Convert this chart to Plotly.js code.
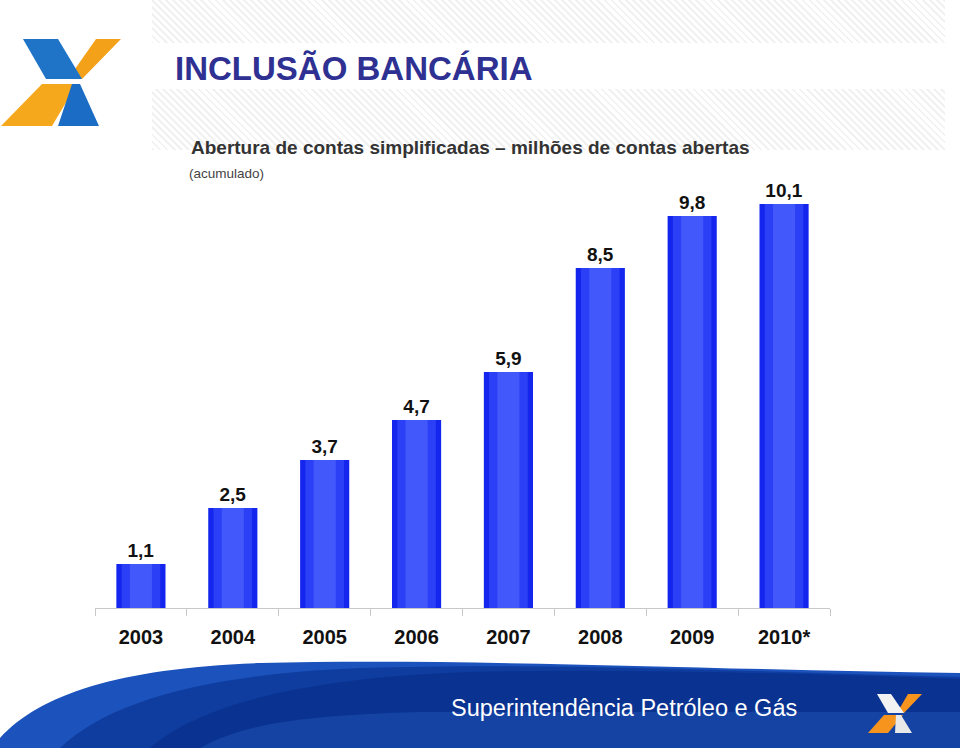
<!DOCTYPE html>
<html>
<head>
<meta charset="utf-8">
<script src="https://cdn.plot.ly/plotly-3.0.1.min.js"></script>
<style>
  html, body { margin: 0; padding: 0; background: #fff; }
  #fundo { position: absolute; left: 152px; top: 0; width: 793px; height: 150px;
    background: repeating-linear-gradient(45deg, #f1f1f1 0px, #f1f1f1 2px, #fff 2px, #fff 5px); }
  #faixa { position: absolute; left: 152px; top: 43px; width: 793px; height: 46px; background: #fff; }
  #grafico { position: absolute; left: 0; top: 0; width: 960px; height: 748px; }
</style>
</head>
<body>
<div id="fundo"></div>
<div id="faixa"></div>
<div id="grafico"></div>
<script>
const anos = ['2003', '2004', '2005', '2006', '2007', '2008', '2009', '2010*'];
const contas = [1.1, 2.5, 3.7, 4.7, 5.9, 8.5, 9.8, 10.1];
const rotulos = contas.map(v => v.toFixed(1).replace('.', ','));

const W = 960, H = 748;
const fonte = 'Arial, "Liberation Sans", sans-serif';

// converte pontos em pixels para coordenadas "paper" (margens zeradas)
const px = (x, y) => (x / W).toFixed(5) + ',' + (1 - y / H).toFixed(5);
const caminho = (cmds) => cmds.map(c => c[0] + ' ' + c.slice(1).map((p, i, a) => i % 2 ? null : px(p, a[i + 1])).filter(Boolean).join(' ')).join(' ') + ' Z';
const forma = (cmds, cor) => ({ type: 'path', xref: 'paper', yref: 'paper', path: caminho(cmds), fillcolor: cor, line: { width: 0 }, layer: 'above' });

const shapes = [
  // logo superior
  forma([['M', 96, 39], ['L', 121, 39], ['L', 82, 79], ['L', 68, 79]], '#f4a11a'),
  forma([['M', 23, 39], ['L', 58, 39], ['L', 82, 79], ['L', 46, 79]], '#1f74c8'),
  forma([['M', 42, 84], ['L', 77, 84], ['L', 52, 126], ['L', 1, 126]], '#f6a81c'),
  forma([['M', 72, 84], ['L', 80, 84], ['L', 99, 126], ['L', 58, 126]], '#1a6cc4'),
  // faixa azul inferior
  forma([['M', 0, 748], ['L', 0, 738], ['C', 40, 694, 120, 668, 260, 663], ['C', 470, 658, 720, 670, 960, 673], ['L', 960, 748]], '#1b52bc'),
  forma([['M', 60, 748], ['C', 110, 700, 210, 674, 360, 668], ['C', 560, 662, 760, 672, 960, 677], ['L', 960, 748]], '#0f3d9f'),
  forma([['M', 150, 748], ['C', 200, 705, 300, 678, 470, 672], ['C', 640, 668, 800, 674, 960, 679], ['L', 960, 748]], '#0a3291'),
  forma([['M', 200, 748], ['C', 240, 725, 300, 715, 420, 712], ['L', 960, 712], ['L', 960, 748]], 'rgba(40,100,200,0.35)'),
  // logo da faixa
  forma([['M', 908, 694], ['L', 922, 694], ['L', 904, 713], ['L', 897, 713]], '#f7941d'),
  forma([['M', 877, 694], ['L', 891, 694], ['L', 904, 713], ['L', 888, 713]], '#f2f2f2'),
  forma([['M', 884, 715], ['L', 903, 715], ['L', 888, 733], ['L', 868, 733]], '#f7941d'),
  forma([['M', 896, 715], ['L', 901, 715], ['L', 912, 733], ['L', 895, 733]], '#e8e8e8')
];

const nota = (texto, x, y, tam, cor, neg) => ({
  text: texto, xref: 'paper', yref: 'paper', x: x / W, y: 1 - y / H,
  xanchor: 'left', yanchor: 'middle', showarrow: false,
  font: { family: fonte, size: tam, color: cor, weight: neg ? 'bold' : 'normal' }
});

const annotations = [
  nota('INCLUSÃO BANCÁRIA', 173, 68, 33, '#2e3192', true),
  nota('Abertura de contas simplificadas – milhões de contas abertas', 189, 147, 19, '#333333', true),
  nota('(acumulado)', 187, 173, 13.5, '#444444', false),
  nota('Superintendência Petróleo e Gás', 449, 708, 23.5, '#ffffff', false)
];

// barras com leve brilho no centro (duas camadas sobrepostas)
const data = [
  {
    x: anos, y: contas, type: 'bar', width: 0.535,
    marker: { color: '#1426ee', line: { width: 0 } },
    text: rotulos, textposition: 'outside', cliponaxis: false,
    textfont: { family: fonte, size: 19, color: '#111', weight: 'bold' },
    hoverinfo: 'x+y'
  },
  {
    x: anos, y: contas, type: 'bar', width: 0.42,
    marker: { color: 'rgba(70,95,255,0.45)', line: { width: 0 } },
    hoverinfo: 'skip'
  },
  {
    x: anos, y: contas, type: 'bar', width: 0.24,
    marker: { color: 'rgba(95,120,255,0.45)', line: { width: 0 } },
    hoverinfo: 'skip'
  }
];

const layout = {
  width: W, height: H,
  margin: { l: 0, r: 0, t: 0, b: 0 },
  paper_bgcolor: 'rgba(0,0,0,0)', plot_bgcolor: 'rgba(0,0,0,0)',
  showlegend: false, barmode: 'overlay',
  xaxis: {
    type: 'category', domain: [95 / W, 830 / W],
    showline: true, linecolor: '#c8c8c8', linewidth: 1,
    ticks: 'outside', tickson: 'boundaries', ticklen: 7, tickcolor: '#c8c8c8',
    ticklabelstandoff: 11, showgrid: false, zeroline: false,
    tickfont: { family: fonte, size: 20, color: '#111', weight: 'bold' },
    fixedrange: true
  },
  yaxis: {
    domain: [1 - 608 / H, 1 - 168 / H], range: [0, 11],
    visible: false, fixedrange: true
  },
  shapes: shapes,
  annotations: annotations
};

Plotly.newPlot('grafico', data, layout, { displayModeBar: false, staticPlot: true });
</script>
</body>
</html>
